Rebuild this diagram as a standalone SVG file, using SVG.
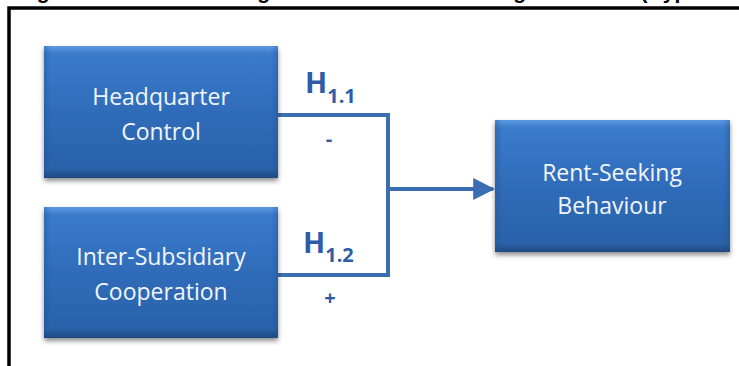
<svg xmlns="http://www.w3.org/2000/svg" width="739" height="366" viewBox="0 0 739 366">
  <defs>
    <linearGradient id="boxFill" x1="0" y1="0" x2="0" y2="1">
      <stop offset="0" stop-color="#5C9AE2"/>
      <stop offset="0.06" stop-color="#3A7BCB"/>
      <stop offset="0.5" stop-color="#2F6CB9"/>
      <stop offset="0.93" stop-color="#2A62AA"/>
      <stop offset="1" stop-color="#1F4A82"/>
    </linearGradient>
    <linearGradient id="sideShade" x1="0" y1="0" x2="1" y2="0">
      <stop offset="0" stop-color="#1E4C8A" stop-opacity="0.35"/>
      <stop offset="0.03" stop-color="#1E4C8A" stop-opacity="0"/>
      <stop offset="0.97" stop-color="#1E4C8A" stop-opacity="0"/>
      <stop offset="1" stop-color="#1E4C8A" stop-opacity="0.35"/>
    </linearGradient>
    <filter id="shadow" x="-10%" y="-10%" width="120%" height="130%">
      <feDropShadow dx="0" dy="3" stdDeviation="2.5" flood-color="#000" flood-opacity="0.45"/>
    </filter>
    <marker id="arrow" viewBox="0 0 10 10" refX="9" refY="5" markerWidth="5.5" markerHeight="6" markerUnits="strokeWidth" orient="auto">
      <path d="M0,0 L10,5 L0,10 Z" fill="#3B6DB2"/>
    </marker>
  </defs>
  <style>
    .box { fill: url(#boxFill); filter: url(#shadow); }
    .shade { fill: url(#sideShade); }
    .label { font-family: "Open Sans", "Noto Sans", sans-serif; font-size: 23px; fill: #F2F6FC; text-anchor: middle; }
    .wire { fill: none; stroke: #3B6DB2; stroke-width: 4; }
    .hyp { font-family: "Open Sans", "Noto Sans", sans-serif; font-weight: 700; fill: #2C5DA6; }
    .sign { font-family: "Open Sans", "Noto Sans", sans-serif; font-weight: 700; font-size: 20px; fill: #2C5DA6; text-anchor: middle; }
    .title { font-family: "Liberation Sans", Arial, sans-serif; font-weight: 700; font-size: 21px; fill: #000; }
  </style>

  <rect x="0" y="0" width="739" height="366" fill="#FFFFFF"/>

  <!-- caption line, mostly above the page edge -->
  <text class="title" x="18" y="-1.5">Figure 1: Research Design for the <tspan x="392">Rent-Seeking Behaviour (Hypothesis 1)</tspan></text>

  <!-- frame -->
  <path d="M9,366 V8 H739" fill="none" stroke="#000" stroke-width="3.5"/>

  <!-- connectors -->
  <g id="connectors">
    <path class="wire" d="M278,115 H388 V275 H278"/>
    <path class="wire" d="M388,189 H493" marker-end="url(#arrow)"/>
  </g>

  <g id="hq-control">
    <rect class="box" x="44" y="46" width="234" height="132"/>
    <rect class="shade" x="44" y="46" width="234" height="132"/>
    <text class="label" x="161" y="105">Headquarter</text>
    <text class="label" x="161" y="140">Control</text>
  </g>

  <g id="inter-subsidiary">
    <rect class="box" x="44" y="207" width="234" height="131"/>
    <rect class="shade" x="44" y="207" width="234" height="131"/>
    <text class="label" x="161" y="265">Inter-Subsidiary</text>
    <text class="label" x="161" y="300">Cooperation</text>
  </g>

  <g id="rent-seeking">
    <rect class="box" x="495" y="120" width="235" height="132"/>
    <rect class="shade" x="495" y="120" width="235" height="132"/>
    <text class="label" x="612" y="181">Rent-Seeking</text>
    <text class="label" x="612" y="214">Behaviour</text>
  </g>

  <!-- hypothesis labels -->
  <g id="h11">
    <text class="hyp" x="305" y="93" font-size="29">H<tspan font-size="20" dy="10">1.1</tspan></text>
    <text class="sign" x="329" y="146">-</text>
  </g>
  <g id="h12">
    <text class="hyp" x="303" y="253" font-size="29">H<tspan font-size="20" dy="9">1.2</tspan></text>
    <text class="sign" x="330" y="305">+</text>
  </g>
</svg>
